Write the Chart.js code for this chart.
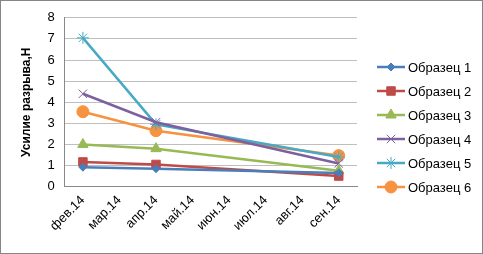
<!DOCTYPE html>
<html>
<head>
<meta charset="utf-8">
<script src="https://cdn.jsdelivr.net/npm/chart.js@4/dist/chart.umd.min.js"></script>
<style>
    html, body { margin: 0; padding: 0; background: #fff; }
    #wrap { width: 483px; height: 254px; }
</style>
</head>
<body>
<div id="wrap"><canvas id="chart" width="483" height="254"></canvas></div>
<script>
const months = ['фев.14', 'мар.14', 'апр.14', 'май.14', 'июн.14', 'июл.14', 'авг.14', 'сен.14'];
const seriesNames = ['Образец 1', 'Образец 2', 'Образец 3', 'Образец 4', 'Образец 5', 'Образец 6'];
const sample1 = [0.92, null, 0.85, null, null, null, null, 0.65];
const sample2 = [1.17, null, 1.05, null, null, null, null, 0.5];
const sample3 = [2.0, null, 1.8, null, null, null, null, 0.75];
const sample4 = [4.4, null, 3.05, null, null, null, null, 1.1];
const sample5 = [7.05, null, 2.95, null, null, null, null, 1.4];
const sample6 = [3.55, null, 2.65, null, null, null, null, 1.47];
const yTicks = [0, 1, 2, 3, 4, 5, 6, 7, 8];

const colors = ['#4A7EBB', '#BE4B48', '#98B954', '#7D60A0', '#46AAC5', '#F69240'];
const markers = ['rectRot', 'rect', 'triangle', 'crossRot', 'star', 'circle'];
const markerSizes = [4, 6, 6, 6, 6, 6];
const allData = [sample1, sample2, sample3, sample4, sample5, sample6];

const datasets = allData.map((d, i) => ({
    label: seriesNames[i],
    data: d,
    borderColor: colors[i],
    backgroundColor: colors[i],
    borderWidth: 2.5,
    pointStyle: markers[i],
    pointRadius: markerSizes[i],
    pointBorderWidth: 1,
    pointBorderColor: colors[i],
    spanGaps: true,
    tension: 0
}));

const font = "'Liberation Sans', Arial, sans-serif";

// legend drawn by hand: line with marker, like the original
const legendPlugin = {
    id: 'sideLegend',
    afterDraw(chart) {
        const ctx = chart.ctx;
        ctx.save();
        chart.data.datasets.forEach((ds, i) => {
            const y = 67 + i * 24;
            ctx.strokeStyle = ds.borderColor;
            ctx.lineWidth = 2.5;
            ctx.beginPath();
            ctx.moveTo(377, y);
            ctx.lineTo(405, y);
            ctx.stroke();
            ctx.fillStyle = ds.backgroundColor;
            ctx.strokeStyle = ds.borderColor;
            ctx.lineWidth = 1;
            Chart.helpers.drawPoint(ctx, {
                pointStyle: ds.pointStyle,
                radius: ds.pointRadius,
                borderWidth: 1,
                rotation: 0
            }, 391, y);
            ctx.fillStyle = '#000';
            ctx.font = '13px ' + font;
            ctx.textBaseline = 'middle';
            ctx.fillText(ds.label, 408, y + 1);
        });
        // outer frame
        ctx.strokeStyle = '#868686';
        ctx.lineWidth = 1;
        ctx.strokeRect(0.5, 0.5, chart.width - 1, chart.height - 1);
        ctx.restore();
    }
};

new Chart(document.getElementById('chart'), {
    type: 'line',
    data: { labels: months, datasets: datasets },
    options: {
        responsive: false,
        animation: false,
        layout: { padding: { top: 8, right: 126, left: 15, bottom: 14 } },
        plugins: {
            legend: { display: false },
            tooltip: { enabled: false }
        },
        scales: {
            x: {
                offset: true,
                grid: { display: false, drawTicks: false },
                border: { color: '#888', width: 1 },
                ticks: {
                    color: '#000',
                    font: { family: font, size: 13 },
                    maxRotation: 45,
                    minRotation: 45,
                    autoSkip: false,
                    padding: 6
                }
            },
            y: {
                min: 0,
                max: 8,
                afterBuildTicks(axis) { axis.ticks = yTicks.map(v => ({ value: v })); },
                grid: { color: '#BFBFBF', drawTicks: false },
                border: { color: '#888', width: 1 },
                ticks: {
                    color: '#000',
                    font: { family: font, size: 13 },
                    padding: 10
                },
                title: {
                    display: true,
                    text: 'Усилие разрыва,Н',
                    color: '#000',
                    font: { family: font, size: 12, weight: 'bold' },
                    padding: { bottom: 4 }
                }
            }
        }
    },
    plugins: [legendPlugin]
});
</script>
</body>
</html>
